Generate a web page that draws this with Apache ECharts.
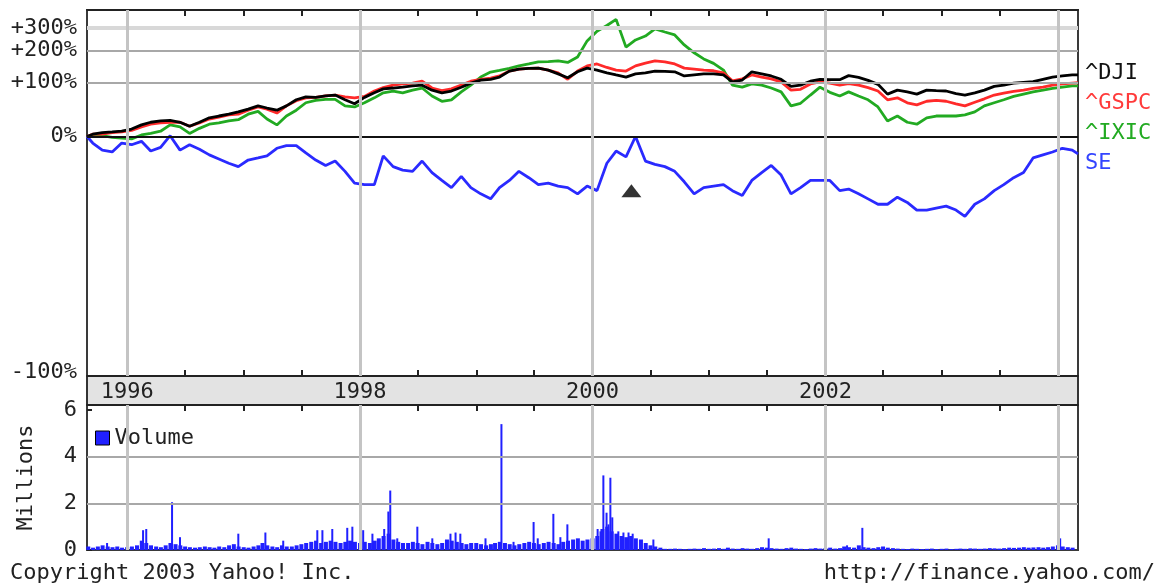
<!DOCTYPE html>
<html><head><meta charset="utf-8">
<script src="https://cdn.jsdelivr.net/npm/echarts@6/dist/echarts.min.js"></script>
<style>html,body{margin:0;padding:0;background:#fff}#c{width:1159px;height:586px}</style>
</head><body><div id="c"></div>
<script>
// ---- data (percent change since start) ----
const dates = [
'1995-08-28','1995-09-15','1995-10-15','1995-11-15','1995-12-15',
'1996-01-15','1996-02-15','1996-03-15','1996-04-15','1996-05-15','1996-06-15','1996-07-15','1996-08-15','1996-09-15','1996-10-15','1996-11-15','1996-12-15',
'1997-01-15','1997-02-15','1997-03-15','1997-04-15','1997-05-15','1997-06-15','1997-07-15','1997-08-15','1997-09-15','1997-10-15','1997-11-15','1997-12-15',
'1998-01-15','1998-02-15','1998-03-15','1998-04-15','1998-05-15','1998-06-15','1998-07-15','1998-08-15','1998-09-15','1998-10-15','1998-11-15','1998-12-15',
'1999-01-15','1999-02-15','1999-03-15','1999-04-15','1999-05-15','1999-06-15','1999-07-15','1999-08-15','1999-09-15','1999-10-15','1999-11-15','1999-12-15',
'2000-01-15','2000-02-15','2000-03-15','2000-04-15','2000-05-15','2000-06-15','2000-07-15','2000-08-15','2000-09-15','2000-10-15','2000-11-15','2000-12-15',
'2001-01-15','2001-02-15','2001-03-15','2001-04-15','2001-05-15','2001-06-15','2001-07-15','2001-08-15','2001-09-15','2001-10-15','2001-11-15','2001-12-15',
'2002-01-15','2002-02-15','2002-03-15','2002-04-15','2002-05-15','2002-06-15','2002-07-15','2002-08-15','2002-09-15','2002-10-15','2002-11-15','2002-12-15',
'2003-01-15','2003-02-15','2003-03-15','2003-04-15','2003-05-15','2003-06-15','2003-07-15','2003-08-15','2003-09-15','2003-10-15','2003-11-15','2003-12-15',
'2004-01-15','2004-02-15','2004-03-04'];

const dji = [0,3,5,6,7,
10,16,20,22,23,20,14,20,27,30,33,37,
42,48,44,40,48,60,66,65,68,70,60,52,
65,75,84,86,88,91,93,81,75,79,88,98,
106,108,114,131,137,139,140,134,123,112,129,140,
134,126,120,114,123,126,131,130,129,117,120,123,
123,120,101,106,129,123,117,108,90,93,103,108,
107,107,118,113,105,95,72,81,77,72,81,80,
79,73,70,75,81,90,93,98,100,102,108,114,
117,120,120];

const gspc = [0,3,3,5,6,
8,13,17,19,20,20,14,19,25,28,32,33,
40,46,42,35,48,58,64,65,68,70,66,64,
67,79,87,93,96,98,103,86,80,84,93,103,
108,111,117,131,137,139,140,134,126,108,131,147,
153,142,134,131,147,156,163,160,153,140,137,134,
132,126,104,109,120,114,109,101,81,83,96,101,
98,93,97,93,87,79,60,64,54,50,57,59,
57,52,48,55,62,70,74,78,81,85,88,93,
96,98,99];

const ixic = [0,1,1,-1,-2,
-3,2,4,7,16,13,4,11,17,19,22,24,
33,38,25,16,30,40,54,59,61,61,48,46,
54,64,75,79,75,81,86,68,57,60,77,93,
114,128,133,139,147,153,160,161,163,158,177,240,
285,314,348,214,244,262,296,281,267,223,192,170,
155,134,93,88,96,93,86,77,48,53,70,88,
76,68,77,68,60,46,22,30,20,17,27,30,
30,30,32,37,48,54,60,67,72,77,81,85,
88,91,91];

const se = [0,-8,-16,-18,-8,
-10,-6,-17,-13,1,-16,-10,-15,-21,-25,-29,-32,
-26,-24,-22,-14,-11,-11,-19,-26,-31,-27,-36,-45,
-46,-46,-22,-32,-35,-36,-27,-37,-43,-48,-40,-48,
-52,-55,-48,-43,-36,-41,-46,-45,-47,-48,-52,-47,
-50,-29,-17,-23,0,-27,-30,-32,-36,-44,-52,-48,
-47,-46,-50,-53,-43,-37,-31,-39,-52,-48,-43,-43,
-43,-50,-49,-52,-55,-58,-58,-54,-57,-61,-61,-60,
-59,-61,-64,-58,-55,-50,-46,-41,-37,-24,-21,-18,
-14,-16,-20];

const seriesNames = ['^DJI','^GSPC','^IXIC','SE'];

// split/event marker
const eventDates = ['2000-05-02'];
const eventPct = [-50];

// volume (millions), half-month samples (1st & 16th), per year
const vol1995 = [0.15,0.1,0.15,0.2,0.15,0.12,0.15,0.1]; // from Sep
const vol1996 = [0.12,0.15,0.2,0.4,0.3,0.2,0.15,0.12,0.2,0.3,0.25,0.2,0.15,0.12,0.1,0.12,0.15,0.12,0.1,0.15,0.12,0.2,0.25,0.15];
const vol1997 = [0.12,0.1,0.15,0.2,0.3,0.2,0.15,0.12,0.2,0.15,0.15,0.2,0.25,0.3,0.35,0.4,0.3,0.35,0.4,0.35,0.3,0.35,0.4,0.35];
const vol1998 = [0.3,0.35,0.3,0.4,0.5,0.6,0.7,0.45,0.35,0.3,0.3,0.35,0.3,0.25,0.35,0.3,0.25,0.3,0.45,0.4,0.35,0.3,0.25,0.3];
const vol1999 = [0.3,0.25,0.2,0.25,0.3,0.35,0.3,0.25,0.2,0.25,0.3,0.35,0.3,0.25,0.3,0.35,0.3,0.25,0.35,0.4,0.45,0.5,0.4,0.45];
const vol2000 = [0.5,0.6,0.9,1.0,0.8,0.7,0.6,0.55,0.6,0.5,0.45,0.3,0.2,0.15,0.1,0.05,0.05,0.06,0.05,0.04,0.05,0.06,0.05,0.08];
const vol2001 = [0.05,0.06,0.08,0.05,0.1,0.06,0.05,0.08,0.06,0.05,0.08,0.12,0.1,0.08,0.06,0.05,0.08,0.1,0.06,0.05,0.04,0.06,0.08,0.06];
const vol2002 = [0.08,0.1,0.06,0.08,0.15,0.12,0.1,0.2,0.12,0.1,0.08,0.12,0.15,0.1,0.08,0.06,0.05,0.04,0.06,0.05,0.04,0.05,0.06,0.04];
const vol2003 = [0.05,0.06,0.04,0.05,0.06,0.05,0.07,0.06,0.05,0.06,0.08,0.07,0.06,0.08,0.1,0.09,0.1,0.12,0.1,0.11,0.12,0.1,0.12,0.15];
const vol2004 = [0.2,0.15,0.12,0.1];

const volSpikeDates = ['1995-10-30','1996-02-20','1996-03-01','1996-05-21','1996-06-15','1996-12-15','1997-03-10','1997-05-05','1997-08-20','1997-09-05','1997-10-06','1997-11-22','1997-12-08','1998-01-11','1998-02-09','1998-03-18','1998-03-31','1998-04-06','1998-04-28','1998-06-30','1998-08-16','1998-10-12','1998-10-28','1998-11-12','1999-01-30','1999-03-21','1999-04-28','1999-06-30','1999-07-13','1999-08-31','1999-09-22','1999-10-14','2000-01-17','2000-01-26','2000-02-04','2000-02-14','2000-02-20','2000-02-26','2000-03-03','2000-03-22','2000-04-07','2000-04-23','2000-05-06','2000-07-10','2001-07-07','2002-03-10','2002-04-27','2004-01-08'];
const volSpikeValues = [0.3,0.85,0.9,2.05,0.55,0.7,0.75,0.4,0.85,0.85,0.9,0.95,1.0,0.85,0.7,0.9,1.65,2.55,0.5,1.0,0.5,0.7,0.75,0.7,0.5,5.4,0.35,1.2,0.5,1.55,0.55,1.1,0.9,0.8,3.2,1.6,1.1,3.1,1.4,0.8,0.75,0.75,0.7,0.45,0.5,0.2,0.95,0.5];

// axis ticks / labels
const yTickPct = [300,200,100,0,-100];
const yTickLabels = ['+300%','+200%','+100%','0%','-100%'];
const volTickLabels = [0,2,4,6];
const tickDates = ['1996-01-01','1996-07-01','1997-01-01','1997-07-01','1998-01-01','1998-07-01','1999-01-01','1999-07-01','2000-01-01','2000-07-01','2001-01-01','2001-07-01','2002-01-01','2002-07-01','2003-01-01','2003-07-01','2004-01-01'];
const yearLabelDates = ['1996-01-01','1998-01-01','2000-01-01','2002-01-01'];
const gridYearDates = ['1996-01-01','1998-01-01','2000-01-01','2002-01-01','2004-01-01'];

// ---- build ----
const ts = s => { const p = s.split('-').map(Number); return new Date(p[0], p[1]-1, p[2]).getTime(); };
const FONT = '"DejaVu Sans Mono", "Liberation Mono", monospace';
const xMin = ts('1995-08-28'), xMax = ts('2004-03-04');
const yMin = 0.0466, yMax = 5.05;
const ratio = p => Math.max(1 + p/100, yMin);
const colors = ['#000000','#ff2a2a','#22aa22','#2a2aff'];
const labelColors = ['#111111','#ff3a3a','#22aa22','#3344ff'];
const values = [dji, gspc, ixic, se];

const volBase = [];
[[1995,8,vol1995],[1996,0,vol1996],[1997,0,vol1997],[1998,0,vol1998],[1999,0,vol1999],[2000,0,vol2000],[2001,0,vol2001],[2002,0,vol2002],[2003,0,vol2003],[2004,0,vol2004]]
.forEach(([y,m0,arr]) => arr.forEach((v,i) => {
  volBase.push([new Date(y, m0 + Math.floor(i/2), i%2 ? 16 : 1).getTime(), v]);
}));
const volSpikes = volSpikeDates.map((d,i) => [ts(d), volSpikeValues[i]]);

const tickTs = tickDates.map(ts);
const hStyles = [
  {type:'solid', color:'#d8d8d8', width:4},
  {type:'solid', color:'#a8a8a8', width:2},
  {type:'solid', color:'#a8a8a8', width:2},
  {type:'solid', color:'#111111', width:2},
  {type:'solid', color:'transparent', width:1}
];
const vStyle = {type:'solid', color:'#c4c4c4', width:3};
const mainMarks = yTickPct.map((p,i) => ({
  yAxis: ratio(p),
  lineStyle: hStyles[i],
  label: {show:true, position:'start', distance:10, formatter: yTickLabels[i],
          offset: i === 4 ? [0,2] : [0,0],
          fontFamily: FONT, fontSize: 22, color:'#222'}
})).concat(gridYearDates.map(d => ({xAxis: ts(d), lineStyle: vStyle, label:{show:false}})));

const volMarks = [2,4].map(v => ({yAxis: v, lineStyle:{type:'solid', color:'#a8a8a8', width:2}, label:{show:false}}))
  .concat(gridYearDates.map(d => ({xAxis: ts(d), lineStyle: vStyle, label:{show:false}})));

const tickCommon = {show:true, inside:true, length:6, customValues: tickTs, lineStyle:{color:'#222', width:2}};

const lineOrder = [2,1,0,3];
const lineSeries = lineOrder.map(k => ({
  name: seriesNames[k], type:'line', xAxisIndex:0, yAxisIndex:0, z:3,
  showSymbol:false, symbol:'none', silent:true,
  lineStyle:{color: colors[k], width:2.8}, itemStyle:{color: colors[k]},
  data: dates.map((d,i) => [ts(d), ratio(values[k][i])])
}));

const xBase = {type:'value', min:xMin, max:xMax, scale:true, splitLine:{show:false}};

const option = {
  animation:false,
  backgroundColor:'#ffffff',
  textStyle:{fontFamily: FONT},
  grid:[
    {left:87, top:10, width:991, height:366, show:true, borderColor:'#3a3a3a', borderWidth:2},
    {left:87, top:405, width:991, height:145, show:true, borderColor:'#3a3a3a', borderWidth:2}
  ],
  xAxis:[
    Object.assign({}, xBase, {gridIndex:0, position:'bottom',
     axisLine:{show:true, onZero:false, lineStyle:{color:'#222', width:2}},
     axisTick: tickCommon,
     axisLabel:{show:true, customValues: yearLabelDates.map(ts), formatter: v => String(new Date(v).getFullYear()),
                margin:5, fontSize:22, color:'#222', fontFamily: FONT, hideOverlap:false}}),
    Object.assign({}, xBase, {gridIndex:0, position:'top',
     axisLine:{show:true, onZero:false, lineStyle:{color:'#222', width:2}},
     axisTick: tickCommon, axisLabel:{show:false}}),
    Object.assign({}, xBase, {gridIndex:1, position:'top',
     axisLine:{show:true, onZero:false, lineStyle:{color:'#222', width:2}},
     axisTick: tickCommon, axisLabel:{show:false}}),
    Object.assign({}, xBase, {gridIndex:1, position:'bottom', show:false})
  ],
  yAxis:[
    {type:'log', gridIndex:0, min:yMin, max:yMax,
     axisLine:{show:false}, axisTick:{show:false}, axisLabel:{show:false}, splitLine:{show:false}},
    {type:'value', gridIndex:1, min:0, max:6.22, interval:2,
     axisLine:{show:false},
     axisTick:{show:true, inside:true, length:5, lineStyle:{color:'#222', width:2}},
     axisLabel:{show:true, margin:10, fontSize:22, color:'#222', fontFamily: FONT,
                formatter: v => (volTickLabels.indexOf(v) >= 0 ? String(v) : '')},
     splitLine:{show:false},
     name:'Millions', nameLocation:'middle', nameRotate:90, nameGap:50,
     nameTextStyle:{fontSize:22, color:'#222', fontFamily: FONT}}
  ],
  legend:[
    {data:['Volume'], left:95, top:427, padding:0, icon:'rect', itemWidth:14, itemHeight:14, itemGap:5,
     selectedMode:false, itemStyle:{borderColor:'#000', borderWidth:1},
     textStyle:{fontFamily: FONT, fontSize:22, color:'#222'}},
    {data: seriesNames.map((n,i) => ({name:n, textStyle:{color: labelColors[i]}})),
     orient:'vertical', left:1080, top:62, padding:0, icon:'none', itemWidth:0, itemHeight:0, itemGap:8,
     selectedMode:false, textStyle:{fontFamily: FONT, fontSize:22}}
  ],
  graphic:[
    {type:'rect', z:-10, silent:true, shape:{x:87, y:376, width:991, height:29}, style:{fill:'#e3e3e3', stroke:'#333', lineWidth:2}},
    {type:'text', left:10, top:562, silent:true, style:{text:'Copyright 2003 Yahoo! Inc.', font:'22px "DejaVu Sans Mono"', fill:'#222'}},
    {type:'text', right:4, top:562, silent:true, style:{text:'http://finance.yahoo.com/', font:'22px "DejaVu Sans Mono"', fill:'#222'}}
  ],
  series: [
    {name:'gridMain', type:'line', xAxisIndex:0, yAxisIndex:0, data:[], z:1, silent:true,
     markLine:{silent:true, symbol:['none','none'], animation:false, data: mainMarks}},
    {name:'gridVol', type:'line', xAxisIndex:2, yAxisIndex:1, data:[], z:1, silent:true,
     markLine:{silent:true, symbol:['none','none'], animation:false, data: volMarks}},
    ...lineSeries,
    {name:'event', type:'scatter', xAxisIndex:0, yAxisIndex:0, z:4, silent:true,
     symbol:'triangle', symbolSize:[20,13], itemStyle:{color:'#000'},
     data: eventDates.map((d,i) => [ts(d), ratio(eventPct[i])])},
    {name:'Volume', type:'bar', xAxisIndex:2, yAxisIndex:1, z:2, silent:true, barWidth:4,
     itemStyle:{color:'#2020ff'}, data: volBase},
    {name:'Volume', type:'bar', xAxisIndex:3, yAxisIndex:1, z:2, silent:true, barWidth:2,
     itemStyle:{color:'#2020ff'}, data: volSpikes}
  ]
};
const chart = echarts.init(document.getElementById('c'), null, {renderer:'canvas'});
chart.setOption(option);
</script>
</body></html>
